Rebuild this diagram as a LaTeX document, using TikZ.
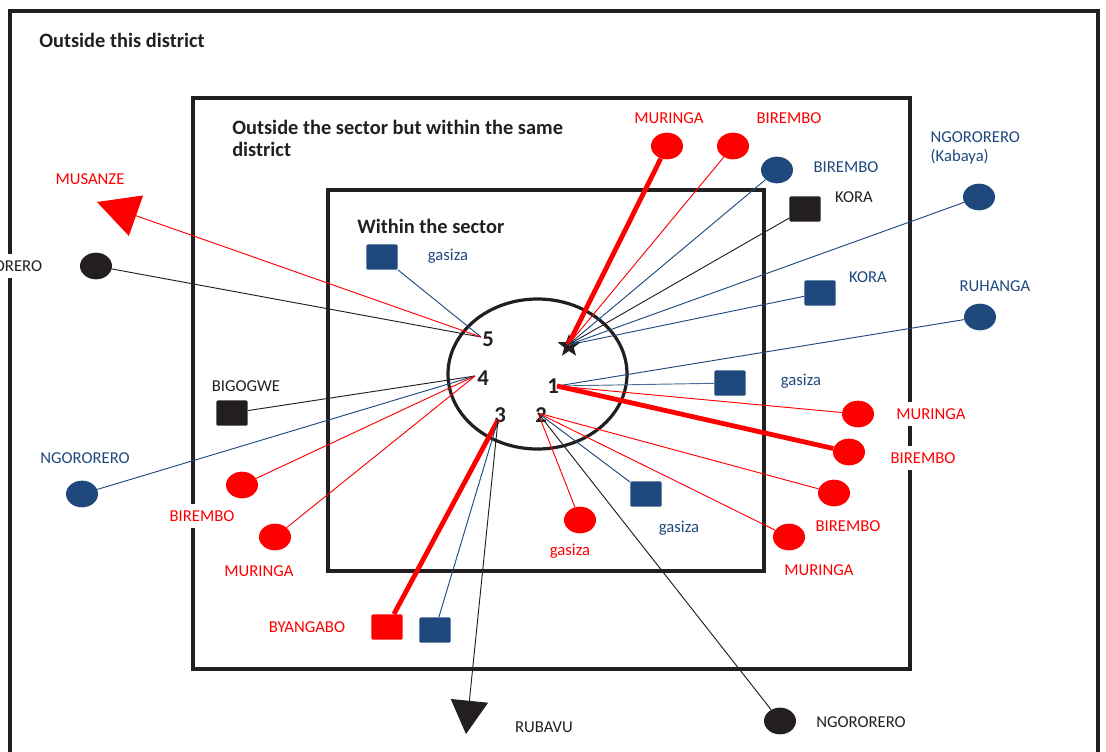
\documentclass[tikz,border=0pt]{standalone}
\usepackage{fontspec}
\setmainfont{Carlito}
\usetikzlibrary{shapes.geometric,arrows.meta}

\definecolor{mapblue}{RGB}{31,73,125}
\definecolor{mapred}{RGB}{255,0,0}
\definecolor{mapblack}{RGB}{35,31,32}

\tikzset{
  boxline/.style={mapblack,line width=2.4pt},
  place/.style={ellipse,minimum width=24pt,minimum height=20pt,inner sep=0pt},
  site/.style={rectangle,rounded corners=1pt,minimum width=23.5pt,minimum height=19pt,inner sep=0pt},
  lbl/.style={font=\fontsize{12.5}{14}\selectfont,inner sep=1pt},
  masklbl/.style={lbl,fill=white,inner xsep=2pt,inner ysep=5pt},
  hdr/.style={font=\fontsize{15.3}{17}\selectfont\bfseries,text=mapblack,align=left,anchor=west,inner sep=0pt},
  hub/.style={font=\fontsize{17}{19}\selectfont\bfseries,text=mapblack,inner sep=0pt},
  link/.style={line width=0.7pt},
  heavy/.style={line width=3.6pt},
}

\begin{document}
\begin{tikzpicture}[x=0.75pt,y=-0.75pt]
\useasboundingbox (0,0) rectangle (1106,751);
%\draw[step=50,gray,very thin] (0,0) grid (1106,751);
\draw[boxline] (10,790) -- (10,11) -- (1098,11) -- (1098,790);
\draw[boxline] (193,98) rectangle (910,669);
\draw[boxline] (328,190) rectangle (764,571);
\draw[boxline] (537.5,374) ellipse [x radius=89.5,y radius=75];

\node[hdr] (tdist) at (39,40) {Outside this district};
\node[hdr] (tsame) at (232,138.5) {Outside the sector but within the same\\district};
\node[hdr] (tsec) at (357,226) {Within the sector};

\node[hub] (n5) at (488,339) {5};
\node[hub] (n4) at (483,378) {4};
\node[hub] (n1) at (553,386) {1};
\node[hub] (n3) at (500,415) {3};
\node[hub] (n2) at (541,415) {2};
\node[star,star points=5,star point ratio=2.4,fill=mapblack,minimum size=18pt,inner sep=0pt] (nstar) at (569,346) {};
\coordinate (hs) at (568,345);
\coordinate (h1) at (557,386);
\coordinate (h2) at (538,413);
\coordinate (h3) at (498,420);
\coordinate (h4) at (475,376);
\coordinate (h5) at (481,337);

% star
\node[place,fill=mapred] (mur1) at (667,146) {};
\node[lbl,text=mapred] (mur1-t) at (669,118) {MURINGA};
\node[place,fill=mapred] (bir1) at (733,146) {};
\node[lbl,text=mapred] (bir1-t) at (789,118) {BIREMBO};
\node[place,fill=mapblue] (bir2) at (777,170) {};
\node[lbl,text=mapblue] (bir2-t) at (846,167) {BIREMBO};
\node[site,fill=mapblack] (kor1) at (805,209) {};
\node[lbl,text=mapblack] (kor1-t) at (854,197) {KORA};
\node[place,fill=mapblue] (ngo1) at (979,197) {};
\node[lbl,text=mapblue,align=left,anchor=west] (ngo1-t) at (929,148) {NGORORERO\\(Kabaya)};
\node[site,fill=mapblue] (kor2) at (820,293) {};
\node[lbl,text=mapblue] (kor2-t) at (868,277) {KORA};
\draw[heavy,mapred] (hs) -- (mur1);
\draw[link,mapred] (hs) -- (bir1);
\draw[link,mapblue] (hs) -- (bir2);
\draw[link,mapblack] (hs) -- (kor1);
\draw[link,mapblue] (hs) -- (ngo1);
\draw[link,mapblue] (hs) -- (kor2);

% 1
\node[place,fill=mapblue] (ruh) at (980,317) {};
\node[lbl,text=mapblue] (ruh-t) at (995,286) {RUHANGA};
\node[site,fill=mapblue] (gas1) at (730,383) {};
\node[lbl,text=mapblue] (gas1-t) at (801,381) {gasiza};
\node[place,fill=mapred] (mur2) at (858,414) {};
\node[masklbl,text=mapred] (mur2-t) at (931,414) {MURINGA};
\node[place,fill=mapred] (bir3) at (849,452) {};
\node[masklbl,text=mapred] (bir3-t) at (923,458) {BIREMBO};
\draw[link,mapblue] (h1) -- (ruh);
\draw[link,mapblue!80] (h1) -- (gas1);
\draw[link,mapred] (h1) -- (mur2);
\draw[heavy,mapred] (h1) -- (bir3);

% 2
\node[place,fill=mapred] (bir4) at (834,493) {};
\node[lbl,text=mapred] (bir4-t) at (848,526) {BIREMBO};
\node[place,fill=mapred] (mur3) at (789,537) {};
\node[lbl,text=mapred] (mur3-t) at (819,570) {MURINGA};
\node[site,fill=mapblue] (gas2) at (646,494) {};
\node[lbl,text=mapblue] (gas2-t) at (679,528) {gasiza};
\node[place,fill=mapred] (gas3) at (580,520) {};
\node[lbl,text=mapred] (gas3-t) at (570,551) {gasiza};
\node[place,fill=mapblack] (ngo2) at (780,721) {};
\node[lbl,text=mapblack] (ngo2-t) at (861,722) {NGORORERO};
\draw[link,mapred] (h2) -- (bir4);
\draw[link,mapred] (h2) -- (mur3);
\draw[link,mapblue] (h2) -- (gas2);
\draw[link,mapred] (h2) -- (gas3);
\draw[link,mapblack] (h2) -- (ngo2);

% 3
\node[site,fill=mapred] (bya) at (387,627) {};
\node[lbl,text=mapred] (bya-t) at (307,627) {BYANGABO};
\node[site,fill=mapblue] (blu) at (435,630) {};
\coordinate (rubavu) at (466,734);
\node[lbl,text=mapblack] (rubavu-t) at (544,727) {RUBAVU};
\draw[heavy,mapred] (h3) -- (bya);
\draw[link,mapblue] (h3) -- (blu);
\draw[link,mapblack,-{Triangle[length=25pt,width=28pt]}] (h3) -- (rubavu);

% 4
\node[site,fill=mapblack] (big) at (232,413) {};
\node[lbl,text=mapblack] (big-t) at (246,386) {BIGOGWE};
\node[place,fill=mapblue] (ngo3) at (82,494) {};
\node[lbl,text=mapblue] (ngo3-t) at (85,458) {NGORORERO};
\node[place,fill=mapred] (bir5) at (242,485) {};
\node[masklbl,text=mapred] (bir5-t) at (202,516) {BIREMBO};
\node[place,fill=mapred] (mur4) at (275,537) {};
\node[lbl,text=mapred] (mur4-t) at (259,571) {MURINGA};
\draw[link,mapblack] (h4) -- (big);
\draw[link,mapblue] (h4) -- (ngo3);
\draw[link,mapred] (h4) -- (bir5);
\draw[link,mapred] (h4) -- (mur4);

% 5
\node[site,fill=mapblue] (gas4) at (382,257) {};
\node[lbl,text=mapblue] (gas4-t) at (448,256) {gasiza};
\node[place,fill=mapblack] (ngo4) at (96,266) {};
\node[masklbl,text=mapblack,anchor=east] (ngo4-t) at (45,266) {NGORORERO};
\coordinate (musanze) at (97,202);
\node[lbl,text=mapred] (musanze-t) at (90,179) {MUSANZE};
\draw[link,mapblue] (h5) -- (gas4);
\draw[link,mapblack] (h5) -- (ngo4);
\draw[link,mapred,-{Triangle[length=31pt,width=32pt]}] (h5) -- (musanze);
\end{tikzpicture}
\end{document}
